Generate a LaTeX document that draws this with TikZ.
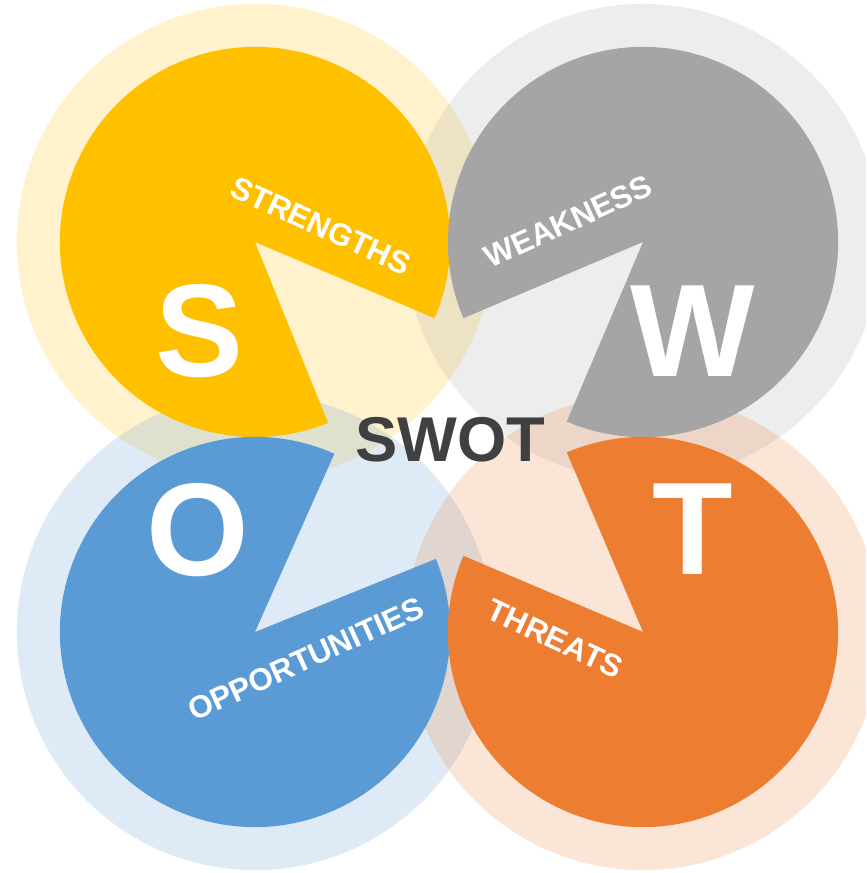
\documentclass[tikz,border=0pt]{standalone}
\usepackage{fontspec}
\setmainfont{Liberation Sans}
\definecolor{syellow}{HTML}{FFC000}
\definecolor{wgray}{HTML}{A5A5A5}
\definecolor{oblue}{HTML}{5B9BD5}
\definecolor{torange}{HTML}{ED7D31}
\definecolor{swotdark}{HTML}{404040}
\tikzstyle{halo}=[fill opacity=0.2]
\tikzstyle{bigletter}=[text=white, inner sep=0, font=\bfseries\fontsize{37.5}{40}\selectfont]
\tikzstyle{pielabel}=[text=white, inner sep=0, font=\bfseries\fontsize{8.9}{10}\selectfont]

\begin{document}
\begin{tikzpicture}[x=0.01cm, y=0.01cm]
    \useasboundingbox (0,0) rectangle (866,873);
    \clip (0,0) rectangle (866,873);
    \coordinate (s) at (255,631);
    \coordinate (w) at (643,631);
    \coordinate (o) at (255,241);
    \coordinate (t) at (643,241);

    \fill[syellow, halo] (s) circle[radius=2.38cm];
    \fill[wgray, halo] (w) circle[radius=2.38cm];
    \fill[oblue, halo] (o) circle[radius=2.38cm];
    \fill[torange, halo] (t) circle[radius=2.38cm];

    \fill[syellow] (s) -- ++(-23:1.95cm) arc[start angle=-23, end angle=292, radius=1.95cm] -- cycle;
    \fill[wgray] (w) -- ++(-113:1.95cm) arc[start angle=-113, end angle=203, radius=1.95cm] -- cycle;
    \fill[oblue] (o) -- ++(66:1.95cm) arc[start angle=66, end angle=382, radius=1.95cm] -- cycle;
    \fill[torange] (t) -- ++(157:1.95cm) arc[start angle=157, end angle=473, radius=1.95cm] -- cycle;

    \node[bigletter] (S) at (199,541.5) {S};
    \node[bigletter] (W) at (693,542) {W};
    \node[bigletter] (O) at (198,343) {O};
    \node[bigletter] (T) at (693,344) {T};

    \node[pielabel, rotate=-24.5] (strengths) at (321,647) {STRENGTHS};
    \node[pielabel, rotate=24.5] (weakness) at (568,651.5) {WEAKNESS};
    \node[pielabel, rotate=24.5] (opportunities) at (306,214) {OPPORTUNITIES};
    \node[pielabel, rotate=-25] (threats) at (555,234.5) {THREATS};

    \node[text=swotdark, inner sep=0, font=\bfseries\fontsize{18}{20}\selectfont] (swot) at (450.5,433) {SWOT};
\end{tikzpicture}
\end{document}
